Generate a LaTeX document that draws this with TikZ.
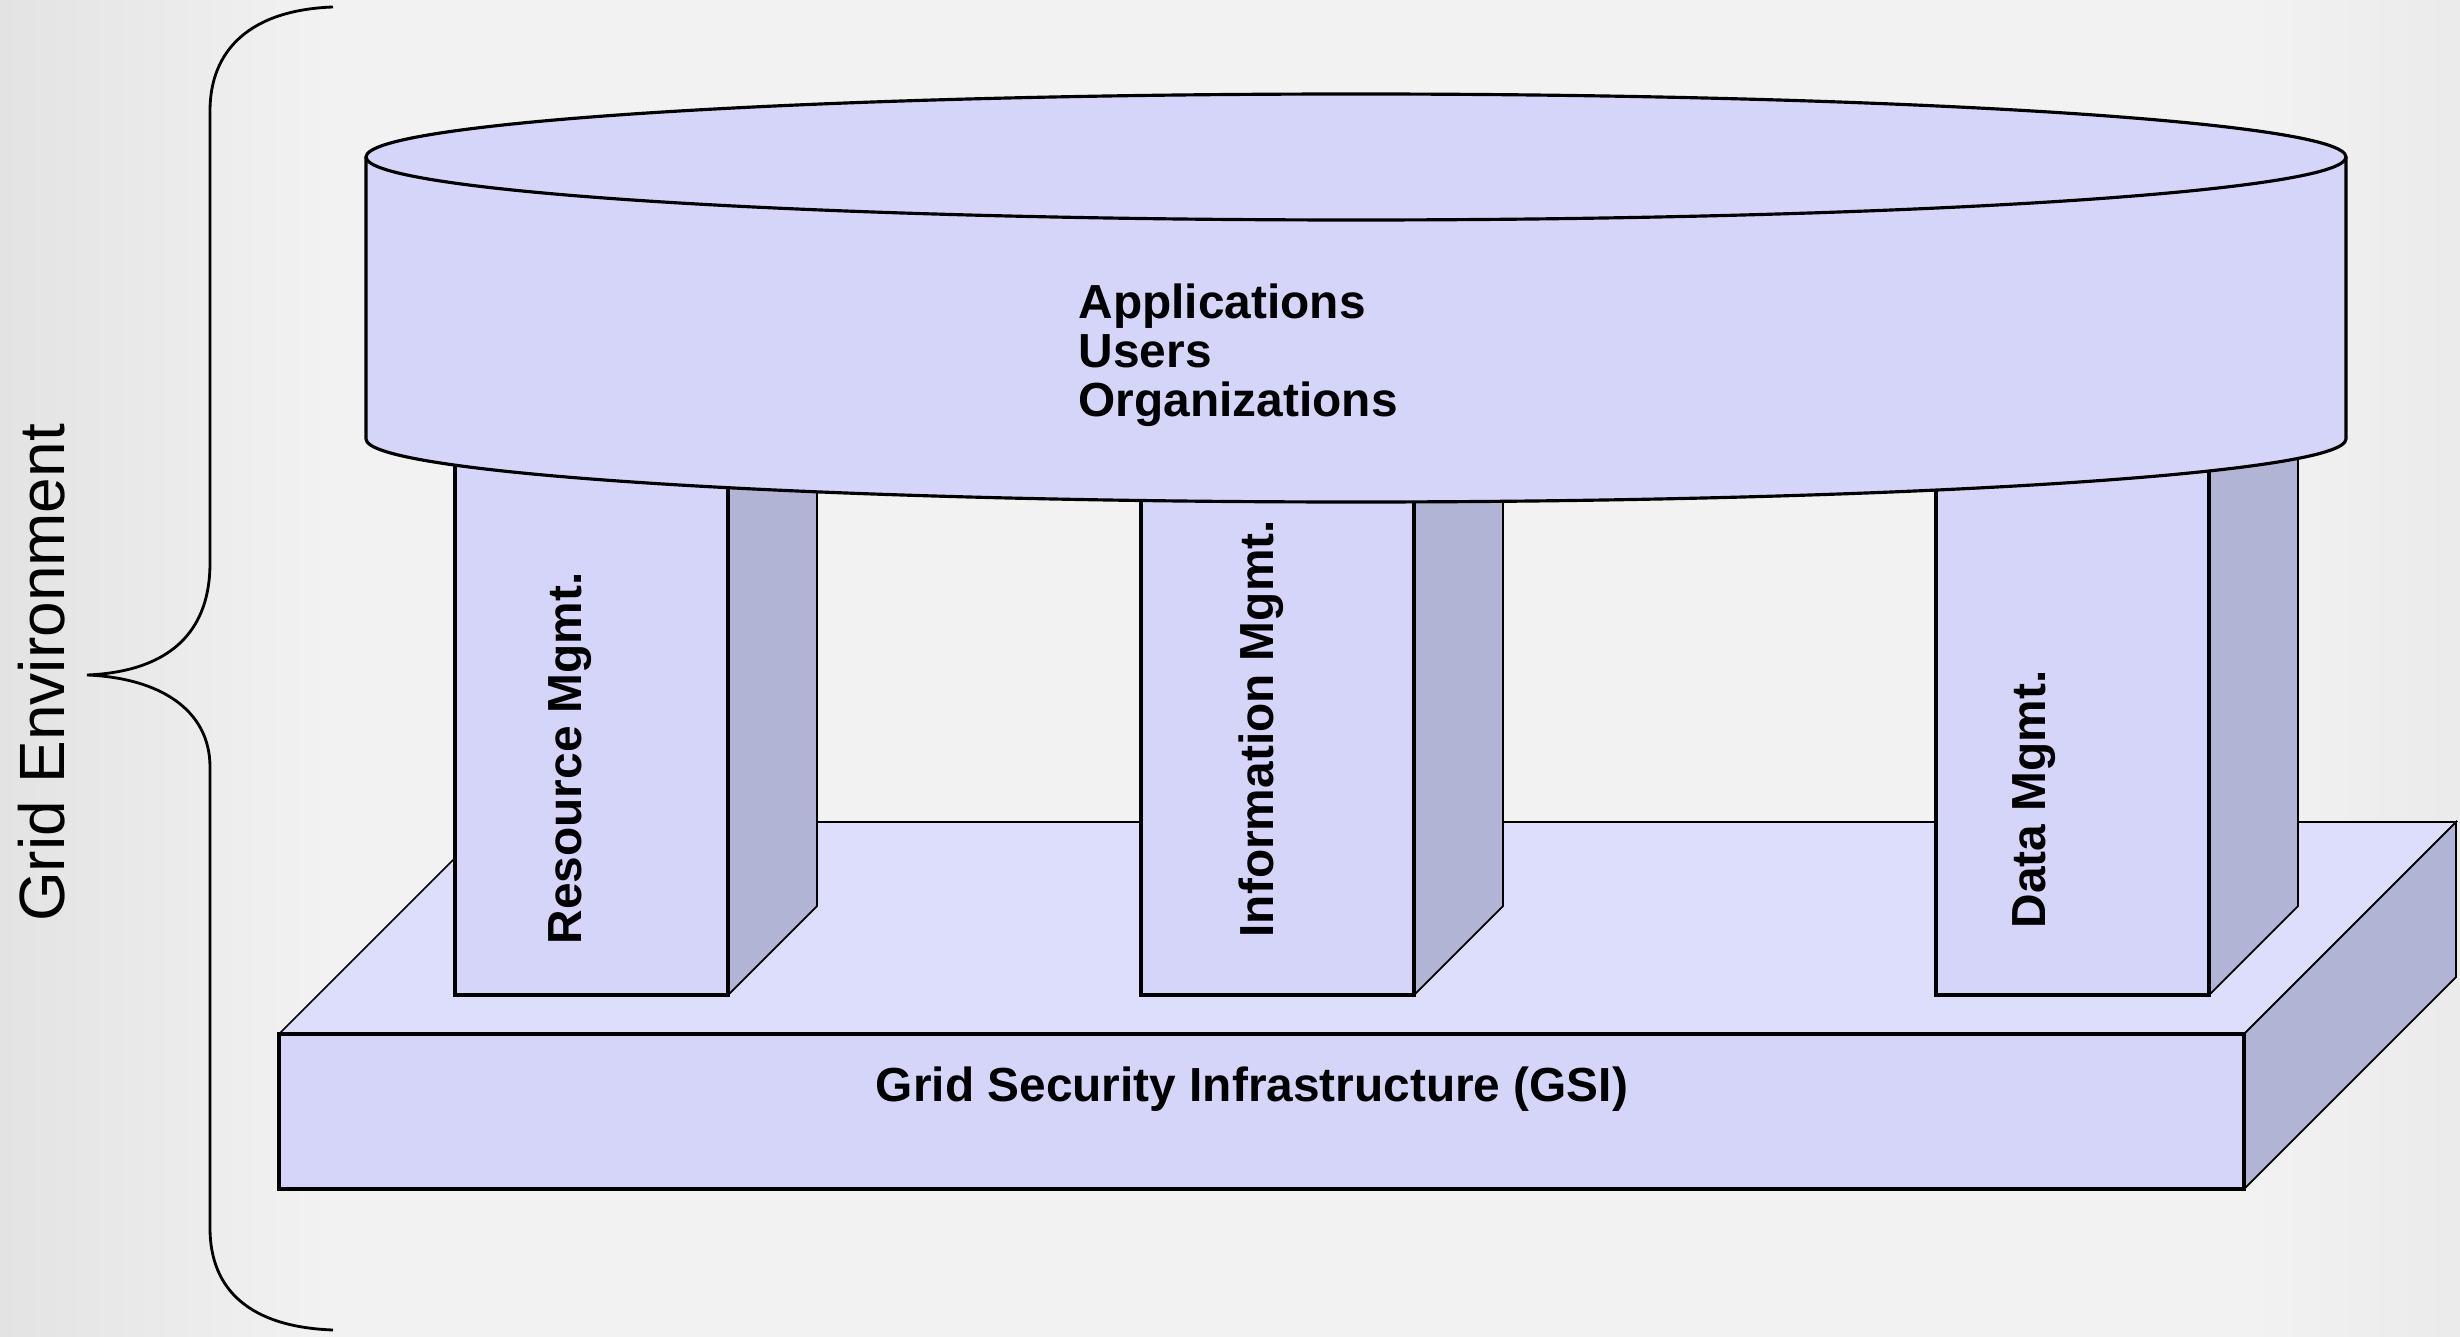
\documentclass[tikz,border=0pt]{standalone}
\usepackage{fontspec}
\setmainfont{Liberation Sans}
\definecolor{bgcol}{HTML}{F2F2F2}
\definecolor{facecol}{HTML}{D5D5FA}
\definecolor{topcol}{HTML}{DDDDFC}
\definecolor{sidecol}{HTML}{B2B4D6}
\tikzset{
  face/.style={fill=facecol, draw=black, line width=0.9pt},
  topface/.style={fill=topcol, draw=black, line width=0.5pt},
  sideface/.style={fill=sidecol, draw=black, line width=0.5pt},
  lbl/.style={font=\fontsize{13.6}{14}\selectfont\bfseries, inner sep=0pt},
}
\begin{document}
\begin{tikzpicture}[x=0.01cm, y=-0.01cm]
\useasboundingbox (0,0) rectangle (2460,1337);
\fill[bgcol] (0,0) rectangle (2460,1337);
\shade[left color=black!11, right color=bgcol] (0,0) rectangle (330,1337);
\shade[left color=bgcol, right color=black!8] (2250,0) rectangle (2460,1337);

% brace on the left
\draw[line width=0.8pt] (333,7) .. controls (250,10) and (210,50) .. (210,111)
  -- (210,563) .. controls (210,640) and (160,672) .. (87,675)
  .. controls (160,678) and (210,710) .. (210,767)
  -- (210,1228) .. controls (210,1290) and (250,1327) .. (333,1330);
\node[rotate=90, font=\fontsize{18.2}{20}\selectfont, inner sep=0pt] (env) at (42,673) {Grid Environment};

% base slab
\draw[topface] (279,1034) -- (491,822) -- (2456,822) -- (2244,1034) -- cycle;
\draw[sideface] (2244,1034) -- (2456,822) -- (2456,977) -- (2244,1189) -- cycle;
\draw[face] (279,1034) rectangle (2244,1189);
\node[lbl] (gsi) at (1252,1089) {Grid Security Infrastructure (GSI)};

% pillars
\foreach \px in {455,1141,1936}{
  \draw[sideface] (\px+273,995) -- (\px+362,906) -- (\px+362,420) -- (\px+273,420) -- cycle;
  \draw[face] (\px,420) rectangle (\px+273,995);
}
\node[lbl, rotate=90, anchor=west] (res) at (570,945) {Resource Mgmt.};
\node[lbl, rotate=90, anchor=west] (info) at (1261,938) {Information Mgmt.};
\node[lbl, rotate=90, anchor=west] (data) at (2034,929) {Data Mgmt.};

% cylinder on top
\fill[facecol] (1356,439) ellipse[x radius=990, y radius=63];
\fill[facecol] (366,157) rectangle (2346,439);
\draw[line width=0.9pt] (366,157) -- (366,439)
  arc[start angle=180, end angle=0, x radius=990, y radius=63] -- (2346,157);
\draw[face] (1356,157) ellipse[x radius=990, y radius=63];
\node[lbl, align=left, anchor=west] (apps) at (1078,355) {Applications\\Users\\Organizations};
\end{tikzpicture}
\end{document}
